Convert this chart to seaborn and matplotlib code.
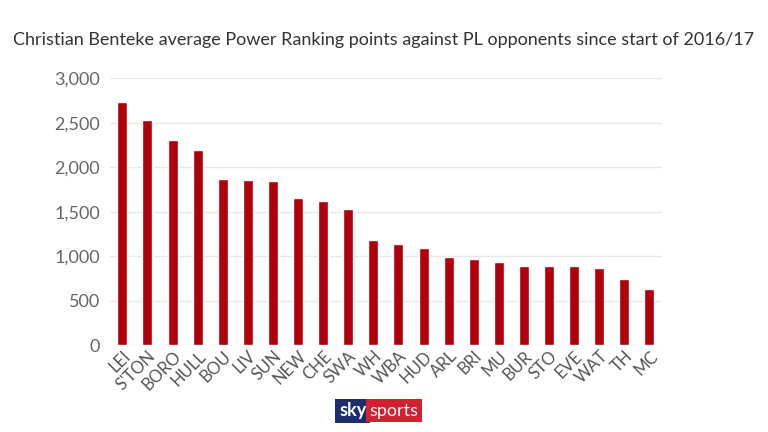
import pandas as pd
import matplotlib.pyplot as plt
import seaborn as sns
from matplotlib.ticker import FuncFormatter

# data
teams = ['LEI', "S'TON", 'BORO', 'HULL', 'BOU', 'LIV', 'SUN', 'NEW', 'CHE', 'SWA', 'WH',
         'WBA', 'HUD', 'ARL', 'BRI', 'MU', 'BUR', 'STO', 'EVE', 'WAT', 'TH', 'MC']
points = [2730, 2530, 2300, 2190, 1870, 1860, 1850, 1650, 1615, 1525, 1185,
          1135, 1090, 990, 965, 930, 895, 892, 885, 865, 745, 630]

df = pd.DataFrame({'team': teams, 'points': points})

sns.set_theme(style="white")
plt.rcParams['font.family'] = ['Lato', 'DejaVu Sans']

fig = plt.figure(figsize=(7.68, 4.32), dpi=100)
ax = fig.add_axes([0.143, 0.201, 0.719, 0.618])

sns.barplot(data=df, x='team', y='points', color='#B0000B', saturation=1,
            width=0.4, ax=ax)

ax.set_ylim(0, 3000)
ax.set_yticks(range(0, 3001, 500))
ax.yaxis.set_major_formatter(FuncFormatter(lambda v, p: f'{int(v):,}'))
ax.grid(axis='y', color='#e8e8e8', linewidth=1)
ax.set_axisbelow(True)
for s in ax.spines.values():
    s.set_visible(False)
ax.set_xlabel('')
ax.set_ylabel('')
ax.tick_params(axis='y', labelsize=13, labelcolor='#666666', pad=7, length=0)
ax.tick_params(axis='x', labelsize=12, labelcolor='#555555', length=0, pad=2)
plt.setp(ax.get_xticklabels(), rotation=45, ha='right', rotation_mode='anchor')

fig.text(0.5, 0.907, 'Christian Benteke average Power Ranking points against PL opponents since start of 2016/17',
         ha='center', va='center', fontsize=13, color='#333333')

# sky sports badge
fig.text(0.477, 0.049, 'sky', ha='right', va='center', fontsize=13, fontweight='bold',
         color='white', bbox=dict(boxstyle='square,pad=0.2', fc='#1d2e6e', ec='none'))
fig.text(0.481, 0.049, 'sports', ha='left', va='center', fontsize=13,
         color='white', bbox=dict(boxstyle='square,pad=0.2', fc='#d3202f', ec='none'))

plt.savefig('out.png', dpi=100)
